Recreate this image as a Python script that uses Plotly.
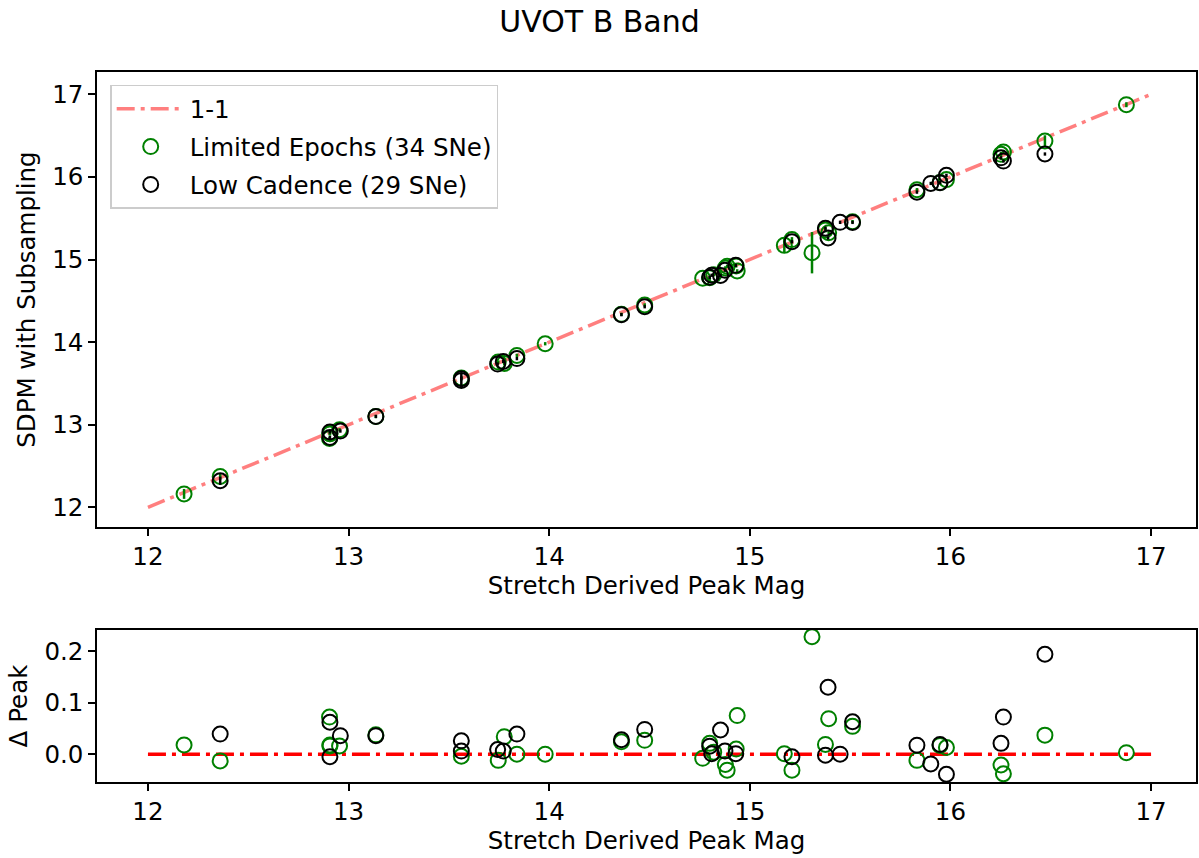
import plotly.graph_objects as go

# Stretch-derived peak magnitudes, residuals (stretch - subsampled) and
# uncertainties for the two subsampling schemes.
lim_peak = [12.18, 12.36, 12.905, 12.907, 12.955, 13.136, 13.562, 13.746, 13.776,
            13.839, 13.98, 14.36, 14.476, 14.765, 14.80, 14.82, 14.878, 14.887,
            14.932, 14.937, 15.172, 15.21, 15.31, 15.377, 15.393, 15.512, 15.833,
            15.948, 15.98, 16.252, 16.264, 16.471, 16.877, 12.907]
lim_delta = [0.018, -0.013, 0.072, 0.018, 0.016, 0.0375, -0.004, -0.012, 0.034,
             0.0, 0.0, 0.024, 0.027, -0.008, 0.021, 0.004, -0.020, -0.031,
             0.010, 0.075, 0.001, -0.031, 0.228, 0.019, 0.069, 0.054, -0.012,
             0.017, 0.013, -0.021, -0.038, 0.037, 0.003, 0.016]
lim_err = [0.06, 0.04, 0.02, 0.02, 0.02, 0.02, 0.02, 0.02, 0.02,
           0.02, 0.02, 0.02, 0.02, 0.02, 0.02, 0.02, 0.02, 0.02,
           0.02, 0.02, 0.09, 0.03, 0.25, 0.03, 0.02, 0.02, 0.02,
           0.02, 0.02, 0.03, 0.02, 0.07, 0.03, 0.02]

low_peak = [12.36, 12.907, 12.907, 12.959, 13.136, 13.562, 13.562, 13.743, 13.771,
            13.839, 14.36, 14.476, 14.80, 14.81, 14.854, 14.876, 14.93, 15.21,
            15.39, 15.377, 15.45, 15.512, 15.833, 15.902, 15.948, 15.98, 16.264,
            16.252, 16.471]
low_delta = [0.039, 0.062, -0.005, 0.036, 0.036, 0.026, 0.006, 0.009, 0.006,
             0.039, 0.028, 0.048, 0.0155, 0.001, 0.047, 0.006, 0.001, -0.005,
             0.130, -0.002, 0.0, 0.063, 0.0175, -0.019, 0.019, -0.039, 0.072,
             0.021, 0.194]
low_err = [0.05, 0.02, 0.02, 0.02, 0.02, 0.08, 0.02, 0.02, 0.02,
           0.02, 0.02, 0.02, 0.02, 0.02, 0.02, 0.02, 0.02, 0.02,
           0.02, 0.02, 0.02, 0.02, 0.02, 0.02, 0.02, 0.02, 0.02,
           0.02, 0.02]

one_to_one = [12, 17]
zero_line = [0, 0]

lim_sub = [p - d for p, d in zip(lim_peak, lim_delta)]
low_sub = [p - d for p, d in zip(low_peak, low_delta)]

FONT = "DejaVu Sans"
FS = 24.5
GREEN = "#008000"
BLACK = "#000000"
DASHDOT = "18px,6px,4px,6px"

fig = go.Figure()

# Upper panel: subsampled vs stretch-derived peak
fig.add_trace(go.Scatter(
    x=one_to_one, y=one_to_one, mode="lines", name="1-1", legendgroup="a",
    line=dict(color="rgba(255,0,0,0.5)", width=3.5, dash=DASHDOT),
    xaxis="x", yaxis="y"))
fig.add_trace(go.Scatter(
    x=lim_peak, y=lim_sub, mode="markers", name="Limited Epochs (34 SNe)", legendgroup="b",
    marker=dict(symbol="circle-open", size=15, color=GREEN, line=dict(width=2, color=GREEN)),
    error_y=dict(type="data", array=lim_err, visible=True, color=GREEN, thickness=2.5, width=0),
    xaxis="x", yaxis="y"))
fig.add_trace(go.Scatter(
    x=low_peak, y=low_sub, mode="markers", name="Low Cadence (29 SNe)", legendgroup="c",
    marker=dict(symbol="circle-open", size=15, color=BLACK, line=dict(width=2, color=BLACK)),
    error_y=dict(type="data", array=low_err, visible=True, color=BLACK, thickness=2.5, width=0),
    xaxis="x", yaxis="y"))

# Lower panel: residuals
fig.add_trace(go.Scatter(
    x=one_to_one, y=zero_line, mode="lines", showlegend=False,
    line=dict(color="#ff0000", width=3.5, dash=DASHDOT),
    xaxis="x2", yaxis="y2"))
fig.add_trace(go.Scatter(
    x=lim_peak, y=lim_delta, mode="markers", showlegend=False,
    marker=dict(symbol="circle-open", size=15, color=GREEN, line=dict(width=2, color=GREEN)),
    xaxis="x2", yaxis="y2"))
fig.add_trace(go.Scatter(
    x=low_peak, y=low_delta, mode="markers", showlegend=False,
    marker=dict(symbol="circle-open", size=15, color=BLACK, line=dict(width=2, color=BLACK)),
    xaxis="x2", yaxis="y2"))

axis_common = dict(
    showline=True, linecolor="black", linewidth=1.5, mirror=True,
    ticks="outside", ticklen=7, tickwidth=1.5, tickcolor="black",
    showgrid=False, zeroline=False,
    tickfont=dict(family=FONT, size=FS, color="black"),
)

fig.update_layout(
    width=1199, height=858,
    margin=dict(l=97, r=1, t=72, b=76),
    paper_bgcolor="white", plot_bgcolor="white",
    font=dict(family=FONT, size=FS, color="black"),
    title=dict(text="UVOT B Band", x=0.5, xanchor="center", y=0.975, yanchor="middle",
               font=dict(family=FONT, size=30, color="black")),
    xaxis=dict(domain=[0, 1], range=[11.746, 17.224], anchor="y",
               tickvals=[12, 13, 14, 15, 16, 17],
               title=dict(text="Stretch Derived Peak Mag", standoff=6,
                          font=dict(family=FONT, size=FS)),
               **axis_common),
    yaxis=dict(domain=[0.359, 1], range=[11.76, 17.27], anchor="x",
               tickvals=[12, 13, 14, 15, 16, 17],
               title=dict(text="SDPM with Subsampling", standoff=10,
                          font=dict(family=FONT, size=FS)),
               **axis_common),
    xaxis2=dict(domain=[0, 1], range=[11.746, 17.224], anchor="y2",
                tickvals=[12, 13, 14, 15, 16, 17],
                title=dict(text="Stretch Derived Peak Mag", standoff=6,
                           font=dict(family=FONT, size=FS)),
                **axis_common),
    yaxis2=dict(domain=[0, 0.214], range=[-0.054, 0.241], anchor="x2",
                tickvals=[0.0, 0.1, 0.2], ticktext=["0.0", "0.1", "0.2"],
                title=dict(text="Δ Peak", standoff=10,
                           font=dict(family=FONT, size=FS)),
                **axis_common),
    legend=dict(x=0.012, y=0.982, xanchor="left", yanchor="top",
                bgcolor="rgba(255,255,255,0.8)", bordercolor="#cccccc", borderwidth=1.5,
                font=dict(family=FONT, size=FS, color="black"),
                itemwidth=68, tracegroupgap=3),
    showlegend=True,
)

fig.write_html("out.html")
